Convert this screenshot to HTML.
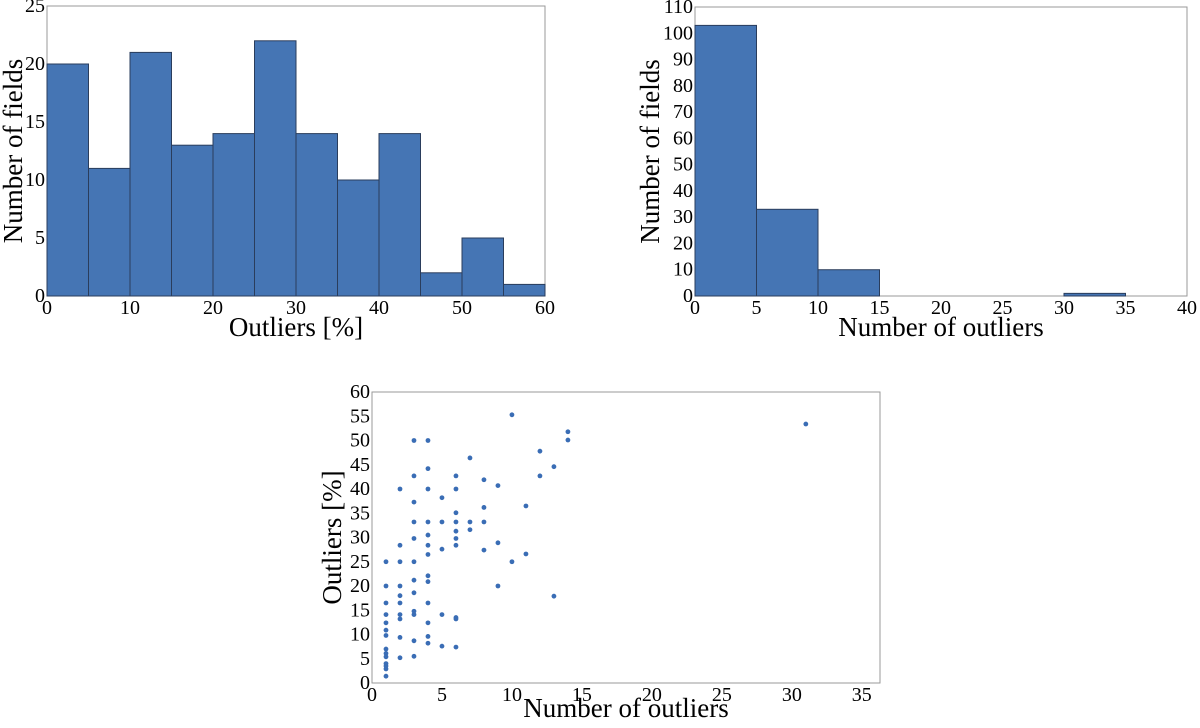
<!DOCTYPE html>
<html><head><meta charset="utf-8"><style>
body{margin:0;background:#fff;width:1200px;height:723px;overflow:hidden}
text{font-family:"Liberation Serif","DejaVu Serif",serif}
</style></head><body>
<svg id="s" width="1200" height="723"></svg>
<script>
const h1Edges=[0,5,10,15,20,25,30,35,40,45,50,55,60];
const h1Counts=[20,11,21,13,14,22,14,10,14,2,5,1];
const h1XTicks=[0,10,20,30,40,50,60];
const h1YTicks=[0,5,10,15,20,25];
const h2Edges=[0,5,10,15,20,25,30,35];
const h2Counts=[103,33,10,0,0,0,1];
const h2XTicks=[0,5,10,15,20,25,30,35,40];
const h2YTicks=[0,10,20,30,40,50,60,70,80,90,100,110];
const scX=[1,1,1,1,1,1,1,1,1,1,1,1,1,1,2,2,2,2,2,2,2,2,2,2,3,3,3,3,3,3,3,3,3,3,3,3,4,4,4,4,4,4,4,4,4,4,4,4,4,5,5,5,5,5,6,6,6,6,6,6,6,6,6,6,7,7,7,8,8,8,8,9,9,9,10,10,11,11,12,12,13,13,14,14,31];
const scY=[25,20,16.5,14.1,12.4,10.9,9.8,7,6.1,5.4,4,3.5,2.9,1.4,40,28.4,25,20,18,16.5,14.1,13.2,9.4,5.2,50,42.7,37.3,33.2,29.8,25,21.2,18.6,14.8,14.1,8.7,5.5,50,44.2,40,33.2,30.5,28.4,26.5,22.1,20.9,16.5,12.4,9.6,8.2,38.2,33.2,27.6,14.1,7.6,42.7,40,35.1,33.2,31.3,29.8,28.4,13.5,13.2,7.4,46.4,33.2,31.6,41.9,36.2,33.2,27.4,40.7,28.9,20,55.3,25,36.5,26.6,47.8,42.7,44.6,17.9,51.8,50.1,53.4];
const NS="http://www.w3.org/2000/svg",svg=document.getElementById('s');
function mk(t,a,txt){const e=document.createElementNS(NS,t);for(const k in a)e.setAttribute(k,a[k]);if(txt!==undefined)e.textContent=txt;svg.appendChild(e);return e;}
function axes(L,T,R,B,xmin,xmax,ymin,ymax,xt,yt,xl,yl,name,xoff,ycx){
  const sx=v=>L+(v-xmin)/(xmax-xmin)*(R-L), sy=v=>B-(v-ymin)/(ymax-ymin)*(B-T);
  const f=mk('rect',{x:L,y:T,width:R-L,height:B-T,fill:'none',stroke:'#999','stroke-width':1});
  
  
  xt.forEach(v=>{const t=mk('text',{x:sx(v),y:B+18,'text-anchor':'middle','font-size':20},v);
    
    });
  yt.forEach(v=>{const t=mk('text',{x:L-2,y:sy(v)+6,'text-anchor':'end','font-size':20},v);
    
    });
  const a=mk('text',{x:(L+R)/2,y:B+xoff,'text-anchor':'middle','font-size':27},xl);
  
  
  const cy=(T+B)/2,cx=ycx;
  const b=mk('text',{x:cx,y:cy,'text-anchor':'middle','font-size':27,transform:`rotate(-90 ${cx} ${cy})`},yl);
  
  
  return [sx,sy];
}
function hist(edges,counts,sx,sy,name){
  counts.forEach((c,i)=>{if(c<=0)return;
    const r=mk('rect',{x:sx(edges[i]),y:sy(c),width:sx(edges[i+1])-sx(edges[i]),height:sy(0)-sy(c),fill:'#4575b4',stroke:'#2a3d5c','stroke-width':1});
    
    });
}
let [a,b]=axes(47,6,545,296,0,60,0,25,h1XTicks,h1YTicks,'Outliers [%]','Number of fields','hist-percent',40,22);
hist(h1Edges,h1Counts,a,b,'hist-percent');
[a,b]=axes(695,7,1187,296,0,40,0,110,h2XTicks,h2YTicks,'Number of outliers','Number of fields','hist-count',40,659);
hist(h2Edges,h2Counts,a,b,'hist-count');
[a,b]=axes(372,392,880,683,0,36.3,0,60,[0,5,10,15,20,25,30,35],[0,5,10,15,20,25,30,35,40,45,50,55,60],'Number of outliers','Outliers [%]','scatter',34,341);
scX.forEach((x,i)=>{const c=mk('circle',{cx:a(x),cy:b(scY[i]),r:2.4,fill:'#3a6db5'});
  
  });
</script>
</body></html>
